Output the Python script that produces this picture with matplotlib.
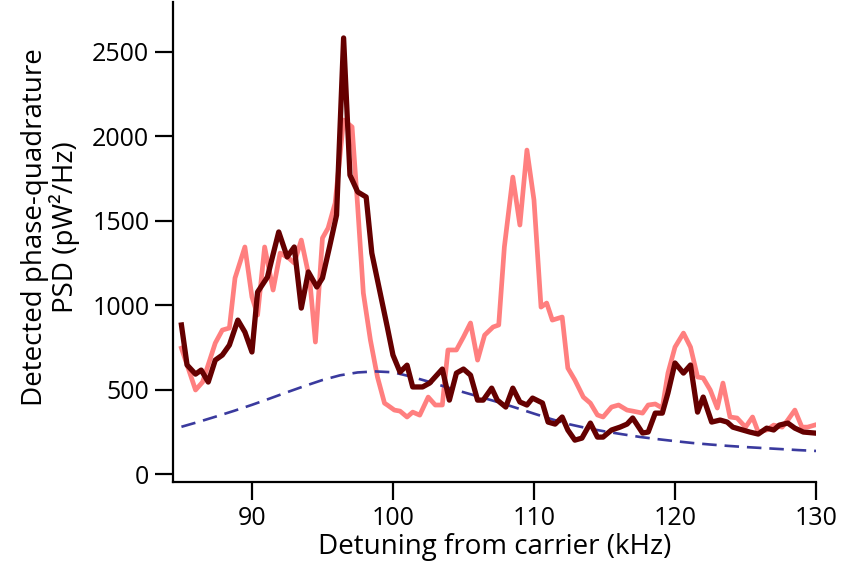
import matplotlib.pyplot as plt

# detuning (kHz) and PSD (pW^2/Hz)
x_dark = [85.0, 85.4, 86.0, 86.4, 86.9, 87.4, 87.9, 88.4, 89.0, 89.5, 90.0, 90.4,
          91.1, 91.4, 91.9, 92.5, 93.0, 93.5, 94.0, 94.6, 95.0, 95.5, 96.0, 96.5,
          96.95, 97.5, 98.1, 98.5, 99.6, 100.0, 100.5, 101.0, 101.4, 102.1, 102.6,
          103.5, 104.0, 104.5, 105.0, 105.5, 106.0, 106.4, 107.0, 107.4, 108.0,
          108.5, 109.0, 109.5, 109.9, 110.6, 111.0, 111.5, 112.0, 112.4, 112.9,
          113.4, 114.0, 114.5, 114.9, 115.5, 116.1, 116.6, 117.0, 117.7, 118.1,
          118.6, 119.1, 119.5, 120.0, 120.6, 121.1, 121.6, 122.0, 122.6, 123.2,
          123.7, 124.1, 124.8, 125.3, 125.9, 126.5, 127.0, 127.4, 128.0, 128.5,
          129.1, 129.9]
y_dark = [883, 646, 592, 616, 545, 675, 705, 764, 912, 841, 723, 1078,
          1167, 1268, 1434, 1286, 1345, 983, 1197, 1108, 1161, 1345, 1534, 2583,
          1771, 1671, 1641, 1309, 870, 705, 604, 645, 516, 516, 539,
          622, 438, 598, 622, 586, 438, 438, 509, 438, 397,
          509, 427, 409, 450, 421, 308, 296, 338, 261, 201,
          213, 302, 219, 219, 261, 278, 296, 332, 243, 249,
          361, 361, 480, 658, 598, 646, 367, 456, 308, 320,
          308, 278, 261, 249, 237, 272, 261, 290, 302, 272,
          249, 243]

x_light = [85.0, 86.0, 86.5, 87.4, 87.9, 88.4, 88.8, 89.5, 90.0, 90.4, 90.9, 91.5,
           92.0, 92.6, 93.0, 93.5, 94.1, 94.5, 95.0, 95.4, 95.9, 96.5, 97.1, 97.5,
           97.9, 98.4, 98.9, 99.4, 99.6, 100.1, 100.5, 101.0, 101.4, 101.9, 102.5,
           103.0, 103.5, 103.9, 104.5, 105.0, 105.5, 106.0, 106.5, 107.1, 107.5,
           107.9, 108.5, 109.0, 109.5, 110.0, 110.5, 110.9, 111.3, 112.0, 112.4,
           112.9, 113.5, 114.0, 114.5, 114.9, 115.5, 116.0, 116.6, 117.0, 117.7,
           118.1, 118.6, 119.1, 119.5, 120.0, 120.6, 121.1, 121.6, 122.0, 122.5,
           123.0, 123.4, 123.9, 124.4, 125.0, 125.5, 125.9, 126.5, 127.0, 127.6,
           128.0, 128.5, 129.0, 129.4, 129.9]
y_light = [746, 498, 545, 776, 853, 865, 1161, 1345, 1049, 942, 1345, 1090,
           1309, 1280, 1250, 1386, 1149, 782, 1398, 1457, 1605, 2097, 2056, 1582,
           1072, 794, 575, 420, 409, 379, 373, 338, 367, 349, 456,
           409, 409, 735, 735, 812, 895, 675, 823, 871, 883,
           1345, 1759, 1475, 1919, 1623, 989, 1013, 912, 930, 628,
           557, 456, 420, 350, 338, 397, 409, 379, 373, 361,
           409, 415, 391, 598, 752, 835, 752, 575, 569, 498,
           391, 539, 338, 332, 278, 338, 249, 261, 290, 278,
           320, 379, 278, 278, 290]

x_fit = [85, 86.25, 87.5, 88.75, 90, 91.25, 92.5, 93.75, 95, 96.25, 97.5, 98.75,
         100, 101.25, 102.5, 103.75, 105, 106.25, 107.5, 108.75, 110, 111.25,
         112.5, 113.75, 115, 116.25, 117.5, 118.75, 120, 121.25, 122.5, 123.75,
         125, 126.25, 127.5, 128.75, 130]
y_fit = [280, 310, 342, 375, 410, 447, 485, 522, 557, 585, 602, 608,
         603, 578, 548, 516, 485, 455, 425, 392, 358, 325,
         295, 272, 253, 236, 220, 207, 195, 184, 175, 167,
         160, 154, 148, 142, 137]

plt.rcParams['font.family'] = ['Open Sans', 'DejaVu Sans']
plt.rcParams['font.size'] = 18

fig = plt.figure(figsize=(8.45, 5.73), dpi=100)
ax = fig.add_axes([0.2047, 0.1588, 0.761, 0.8377])

ax.plot(x_light, y_light, color='#ff7f7f', lw=3.4)
ax.plot(x_fit, y_fit, color='#3a3a9e', lw=1.9, ls=(0, (5.5, 3)))
ax.plot(x_dark, y_dark, color='#650000', lw=3.8)

ax.set_xlim(84.4, 130)
ax.set_ylim(-47, 2796)
ax.set_xticks([90, 100, 110, 120, 130])
ax.set_yticks([0, 500, 1000, 1500, 2000, 2500])

for side in ['top', 'right']:
    ax.spines[side].set_visible(False)
for side in ['left', 'bottom']:
    ax.spines[side].set_linewidth(1.6)
ax.tick_params(direction='out', length=13, width=1.6, pad=4)

ax.set_xlabel("Detuning from carrier (kHz)", fontsize=20, labelpad=2)
ax.set_ylabel("Detected phase-quadrature\nPSD (pW²/Hz)", fontsize=20, linespacing=1.0)
ax.yaxis.set_label_coords(-0.145, 0.53)

fig.savefig("out.png", dpi=100)
